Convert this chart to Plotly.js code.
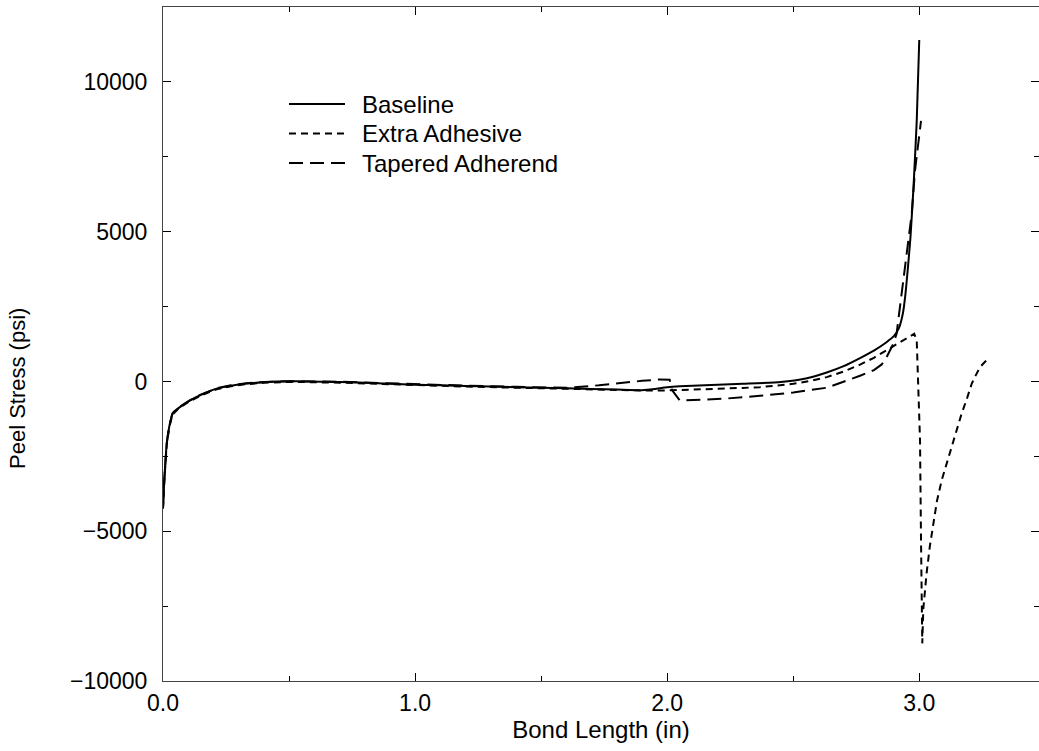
<!DOCTYPE html>
<html>
<head>
<meta charset="utf-8">
<script src="https://cdn.plot.ly/plotly-3.0.1.min.js"></script>
<style>html,body{margin:0;padding:0;background:#fff;}#chart{width:1039px;height:751px;}</style>
</head>
<body>
<div id="chart"></div>
<script>
// Series names
const seriesNames = ["Baseline", "Extra Adhesive", "Tapered Adherend"];

// Baseline (solid)
const baselineX = [0, 0.005, 0.015, 0.025, 0.038, 0.06, 0.08, 0.106, 0.15, 0.213, 0.27, 0.332, 0.4, 0.45, 0.55, 0.7, 0.85, 1.0, 1.2, 1.4, 1.6, 1.8, 1.9, 1.95, 2.0, 2.05, 2.15, 2.3, 2.45, 2.55, 2.633, 2.7, 2.765, 2.82, 2.87, 2.9, 2.92, 2.935, 2.945, 2.955, 2.965, 2.977, 2.99, 3.0];
const baselineY = [-4200, -3300, -2070, -1500, -1070, -900, -780, -640, -450, -240, -140, -70, -25, 0, 5, -20, -60, -110, -150, -190, -230, -270, -290, -250, -190, -160, -130, -80, -20, 100, 300, 510, 780, 1030, 1310, 1520, 1800, 2270, 2900, 3800, 4800, 6470, 8700, 11400];

// Extra Adhesive (short dash)
const extraX = [0, 0.005, 0.015, 0.025, 0.038, 0.06, 0.08, 0.106, 0.15, 0.213, 0.27, 0.332, 0.4, 0.5, 0.7, 0.85, 1.0, 1.2, 1.4, 1.6, 1.8, 1.9, 2.0, 2.1, 2.2, 2.3, 2.368, 2.45, 2.5, 2.57, 2.633, 2.7, 2.765, 2.82, 2.87, 2.91, 2.95, 2.98, 2.99, 3.003, 3.007, 3.012, 3.016, 3.029, 3.042, 3.056, 3.07, 3.089, 3.11, 3.129, 3.15, 3.168, 3.19, 3.208, 3.225, 3.241, 3.26, 3.274];
const extraY = [-4250, -3350, -2100, -1530, -1100, -920, -800, -660, -470, -260, -160, -90, -45, -15, -40, -80, -130, -170, -210, -250, -280, -300, -300, -280, -250, -215, -190, -130, -80, 20, 143, 330, 560, 790, 1033, 1250, 1450, 1590, 1367, -1967, -5300, -8743, -7600, -6410, -5500, -4743, -4000, -3300, -2700, -2190, -1600, -1077, -550, -77, 220, 477, 650, 757];

// Tapered Adherend (long dash)
const taperedX = [0, 0.005, 0.015, 0.025, 0.038, 0.06, 0.08, 0.106, 0.15, 0.213, 0.27, 0.332, 0.4, 0.5, 0.7, 0.85, 1.0, 1.2, 1.4, 1.6, 1.73, 1.8, 1.9, 1.97, 2.01, 2.02, 2.05, 2.15, 2.24, 2.368, 2.5, 2.633, 2.7, 2.765, 2.82, 2.85, 2.865, 2.877, 2.897, 2.91, 2.93, 2.95, 2.97, 2.983, 3.0, 3.007];
const taperedY = [-4200, -3300, -2050, -1480, -1060, -890, -770, -630, -440, -230, -130, -60, -20, 5, -10, -50, -100, -140, -180, -210, -130, -60, 20, 67, 60, -300, -633, -610, -567, -480, -370, -210, -20, 190, 380, 560, 720, 923, 1257, 1590, 2923, 4257, 5590, 7033, 8257, 8700];

// Axis tick labels
const xTickVals = [0, 1, 2, 3];
const xTickText = ["0.0", "1.0", "2.0", "3.0"];
const yTickVals = [-10000, -5000, 0, 5000, 10000];
const yTickText = ["\u221210000", "\u22125000", "0", "5000", "10000"];

const FONT = "'Liberation Sans', Arial, Helvetica, sans-serif";
const dashes = ["solid", "7px,5px", "14px,7px"];

const traces = [
  {x: baselineX, y: baselineY, name: seriesNames[0], mode: "lines", showlegend: false,
   line: {color: "#000", width: 2, shape: "spline", smoothing: 0.5}},
  {x: extraX, y: extraY, name: seriesNames[1], mode: "lines", showlegend: false,
   line: {color: "#000", width: 2, dash: dashes[1]}},
  {x: taperedX, y: taperedY, name: seriesNames[2], mode: "lines", showlegend: false,
   line: {color: "#000", width: 2, dash: dashes[2]}}
];

// Plot area geometry (px) for the hand-drawn legend
const W = 1039, H = 751, ML = 163, MR = 0, MT = 7, MB = 70;
const PW = W - ML - MR, PH = H - MT - MB;
const px2x = p => (p - ML) / PW;
const py2y = p => (H - MB - p) / PH;
const legendRows = [104, 133.5, 163];

const shapes = [], annotations = [];
seriesNames.forEach((n, i) => {
  shapes.push({type: "line", xref: "paper", yref: "paper",
    x0: px2x(289), x1: px2x(345), y0: py2y(legendRows[i]), y1: py2y(legendRows[i]),
    line: {color: "#000", width: 2, dash: dashes[i]}});
  annotations.push({xref: "paper", yref: "paper", x: px2x(360), y: py2y(legendRows[i]),
    xanchor: "left", yanchor: "middle", showarrow: false, text: n,
    font: {family: FONT, size: 24, color: "#000"}});
});
annotations.push({xref: "paper", yref: "paper", x: px2x(18), y: py2y(389),
  xanchor: "center", yanchor: "middle", showarrow: false, textangle: -90,
  text: "Peel Stress (psi)", font: {family: FONT, size: 22, color: "#000"}});

const axisCommon = {
  showline: true, linecolor: "#444", linewidth: 1, mirror: "allticks",
  ticks: "inside", ticklen: 8, tickcolor: "#000", tickwidth: 1,
  showgrid: false, zeroline: false,
  tickfont: {family: FONT, size: 23, color: "#000"}
};

const layout = {
  width: W, height: H,
  margin: {l: ML, r: MR, t: MT, b: MB},
  paper_bgcolor: "#fff", plot_bgcolor: "#fff",
  font: {family: FONT, size: 23, color: "#000"},
  showlegend: false,
  shapes: shapes,
  annotations: annotations,
  xaxis: Object.assign({}, axisCommon, {
    range: [0, 3.475], tickvals: xTickVals, ticktext: xTickText,
    ticklabelstandoff: 1,
    minor: {dtick: 0.5, tick0: 0, ticks: "inside", ticklen: 5, tickcolor: "#000"},
    title: {text: "Bond Length (in)", font: {family: FONT, size: 24, color: "#000"}, standoff: 6}
  }),
  yaxis: Object.assign({}, axisCommon, {
    range: [-10000, 12500], tickvals: yTickVals, ticktext: yTickText,
    ticklabelstandoff: 10,
    minor: {dtick: 2500, tick0: 0, ticks: "inside", ticklen: 5, tickcolor: "#000"}
  })
};

Plotly.newPlot("chart", traces, layout, {staticPlot: true, displayModeBar: false});
</script>
</body>
</html>
